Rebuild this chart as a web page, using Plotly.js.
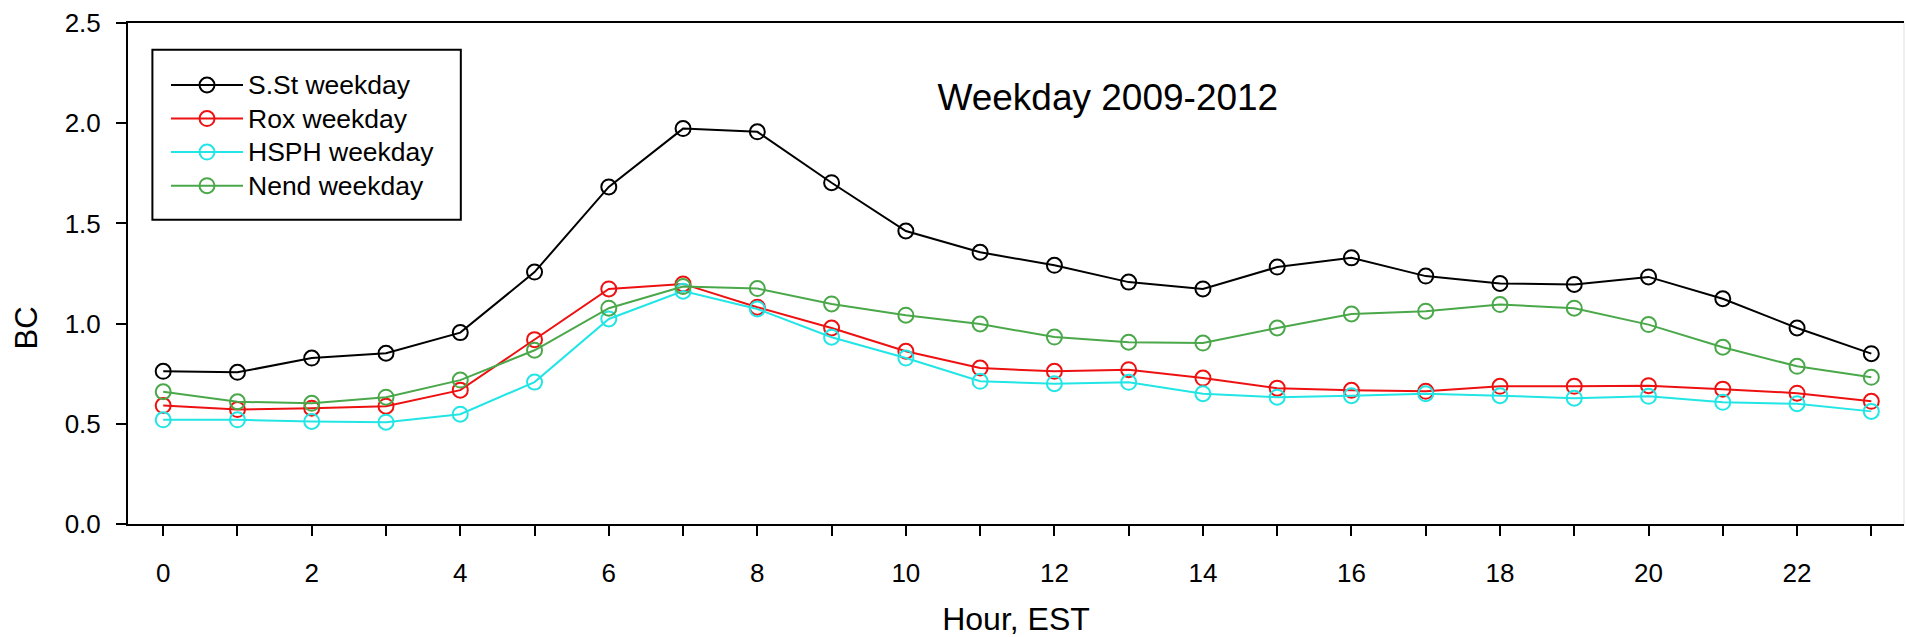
<!DOCTYPE html>
<html>
<head>
<meta charset="utf-8">
<script src="https://cdn.plot.ly/plotly-3.0.1.min.js"></script>
<style>
  html, body { margin: 0; padding: 0; background: #ffffff; }
  #chart { width: 1906px; height: 637px; }
</style>
</head>
<body>
<div id="chart"></div>
<script>
// ---- data ----
var hours = [0,1,2,3,4,5,6,7,8,9,10,11,12,13,14,15,16,17,18,19,20,21,22,23];
var sstWeekday  = [0.762,0.757,0.828,0.852,0.955,1.257,1.682,1.973,1.957,1.703,1.462,1.356,1.291,1.207,1.173,1.282,1.328,1.237,1.200,1.195,1.233,1.124,0.978,0.850];
var roxWeekday  = [0.591,0.571,0.578,0.588,0.668,0.920,1.173,1.198,1.082,0.978,0.862,0.778,0.762,0.770,0.728,0.678,0.667,0.662,0.687,0.687,0.690,0.673,0.653,0.612];
var hsphWeekday = [0.520,0.520,0.512,0.508,0.548,0.708,1.023,1.162,1.073,0.932,0.828,0.712,0.700,0.707,0.650,0.633,0.640,0.650,0.640,0.628,0.637,0.607,0.600,0.562];
var nendWeekday = [0.660,0.610,0.602,0.633,0.718,0.867,1.077,1.185,1.175,1.098,1.042,0.998,0.933,0.907,0.903,0.978,1.048,1.062,1.095,1.077,0.995,0.882,0.787,0.732];
var seriesNames = ["S.St weekday", "Rox weekday", "HSPH weekday", "Nend weekday"];
var xTickVals = hours;
var xTickText = ["0","","2","","4","","6","","8","","10","","12","","14","","16","","18","","20","","22",""];
var yTickVals = [0, 0.5, 1.0, 1.5, 2.0, 2.5];
var chartTitle = "Weekday 2009-2012";
var xTitle = "Hour, EST";
var yTitle = "BC";

// ---- styles ----
var colors = ["#000000", "#ee1111", "#22e5e5", "#4aa84a"];
var seriesData = [sstWeekday, roxWeekday, hsphWeekday, nendWeekday];
var FONT = "Liberation Sans, Arial, Helvetica, sans-serif";

var traces = seriesData.map(function (ys, i) {
  return {
    type: "scatter",
    mode: "lines+markers",
    x: hours,
    y: ys,
    name: '<span style="font-size:26.5px">' + seriesNames[i] + '</span>',
    line: { color: colors[i], width: 2 },
    marker: { symbol: "circle-open", size: 15, color: colors[i], line: { color: colors[i], width: 2 } }
  };
});

var layout = {
  width: 1906,
  height: 637,
  margin: { l: 128, r: 2, t: 23, b: 113 },
  paper_bgcolor: "#ffffff",
  plot_bgcolor: "#ffffff",
  font: { family: FONT, color: "#000000", size: 26 },
  title: {
    text: chartTitle,
    font: { family: FONT, size: 37, color: "#000000" },
    xref: "paper", yref: "container",
    x: 0.5517, xanchor: "center",
    y: 0.847, yanchor: "middle"
  },
  xaxis: {
    range: [-0.474, 23.44],
    tickmode: "array",
    tickvals: xTickVals,
    ticktext: xTickText,
    ticks: "outside",
    ticklen: 10,
    tickwidth: 2,
    tickcolor: "#000000",
    ticklabelstandoff: 15,
    showline: true,
    linewidth: 2,
    linecolor: "#000000",
    mirror: true,
    showgrid: false,
    zeroline: false,
    tickfont: { family: FONT, size: 26, color: "#000000" },
    title: { text: xTitle, font: { family: FONT, size: 32, color: "#000000" }, standoff: 32 }
  },
  yaxis: {
    range: [0, 2.5],
    tickmode: "array",
    tickvals: yTickVals,
    tickformat: ".1f",
    ticks: "outside",
    ticklen: 10,
    tickwidth: 2,
    tickcolor: "#000000",
    ticklabelstandoff: 10,
    showline: true,
    linewidth: 2,
    linecolor: "#000000",
    mirror: false,
    showgrid: false,
    zeroline: false,
    tickfont: { family: FONT, size: 26, color: "#000000" }
  },
  showlegend: true,
  legend: {
    x: 0.0214, xanchor: "left",
    y: 0.9197, yanchor: "top",
    bgcolor: "rgba(0,0,0,0)",
    borderwidth: 0,
    font: { family: FONT, size: 23.5, color: "#000000" },
    itemwidth: 72,
    tracegroupgap: 0
  },
  annotations: [{
    text: yTitle,
    xref: "paper", yref: "y",
    x: -0.057, y: 0.98,
    xanchor: "center", yanchor: "middle",
    textangle: -90,
    showarrow: false,
    font: { family: FONT, size: 31, color: "#000000" }
  }],
  shapes: [
    {
      type: "line", xref: "paper", yref: "paper",
      x0: 1, x1: 1, y0: 0, y1: 1,
      line: { color: "#dddddd", width: 1 }
    },
    {
      type: "rect", xref: "paper", yref: "paper",
      x0: 0.01374, x1: 0.1874, y0: 0.6074, y1: 0.9467,
      fillcolor: "#ffffff",
      line: { color: "#000000", width: 2 },
      layer: "below"
    }
  ]
};

Plotly.newPlot("chart", traces, layout, { displayModeBar: false, staticPlot: true });
</script>
</body>
</html>
